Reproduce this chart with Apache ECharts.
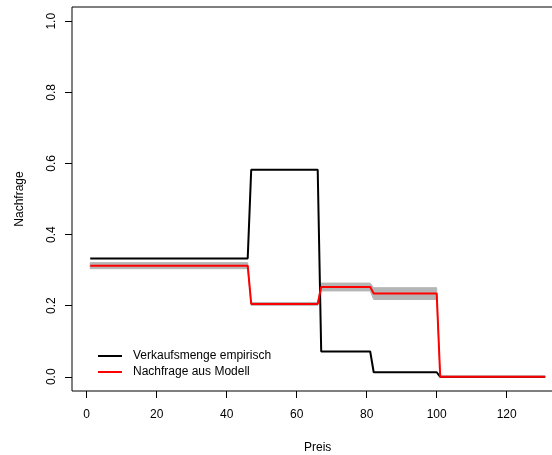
<!DOCTYPE html>
<html>
<head>
<meta charset="utf-8">
<script src="https://cdn.jsdelivr.net/npm/echarts@6/dist/echarts.min.js"></script>
<style>html,body{margin:0;padding:0;background:#fff;}#c{width:552px;height:455px;}</style>
</head>
<body>
<div id="c"></div>
<script>
// Data
var preis = [1, 46, 47, 66, 67, 81, 82, 100, 101, 131];
var empirisch = [0.333, 0.333, 0.582, 0.582, 0.071, 0.071, 0.0127, 0.0127, 0, 0];
var modell = [0.3125, 0.3125, 0.205, 0.205, 0.2525, 0.2525, 0.234, 0.234, 0, 0];
var bandLower = [0.304, 0.304, 0.201, 0.201, 0.2415, 0.2415, 0.2175, 0.2175, 0, 0];
var bandUpper = [0.321, 0.321, 0.209, 0.209, 0.2635, 0.2635, 0.2505, 0.2505, 0, 0];
var xTicks = [0, 20, 40, 60, 80, 100, 120];
var yTicks = [0, 0.2, 0.4, 0.6, 0.8, 1.0];
var nameEmp = 'Verkaufsmenge empirisch';
var nameMod = 'Nachfrage aus Modell';

function zip(xs, ys) { return xs.map(function (x, i) { return [x, ys[i]]; }); }
var bandData = preis.map(function (x, i) { return [x, bandLower[i], bandUpper[i]]; });

var font = "'Liberation Sans', Arial, Helvetica, sans-serif";
var chart = echarts.init(document.getElementById('c'), null, {renderer: 'canvas'});
chart.setOption({
  animation: false,
  textStyle: {fontFamily: font, color: '#000'},
  grid: {left: 72, top: 7, width: 491.4, height: 384, containLabel: false, outerBoundsMode: 'none',
         show: true, borderColor: '#000', borderWidth: 1, backgroundColor: 'transparent'},
  legend: {
    data: [{name: nameEmp, icon: 'rect'}, {name: nameMod, icon: 'rect'}],
    orient: 'vertical', left: 98, top: 350, padding: 0,
    itemWidth: 24, itemHeight: 2, itemGap: 4,
    textStyle: {fontFamily: font, fontSize: 12, color: '#000', padding: [0, 0, 0, 6]}
  },
  xAxis: {
    type: 'value', min: -4.2, max: 136.2,
    name: 'Preis', nameLocation: 'middle', nameGap: 51,
    nameTextStyle: {fontFamily: font, fontSize: 12, color: '#000'},
    axisLine: {show: false, onZero: false},
    axisTick: {show: true, length: 7, customValues: xTicks, lineStyle: {color: '#000'}},
    axisLabel: {customValues: xTicks, margin: 18, fontFamily: font, fontSize: 12, color: '#000'},
    splitLine: {show: false}
  },
  yAxis: {
    type: 'value', min: -0.04, max: 1.04,
    name: 'Nachfrage', nameLocation: 'middle', nameGap: 46, nameRotate: 90,
    nameTextStyle: {fontFamily: font, fontSize: 12, color: '#000'},
    axisLine: {show: false, onZero: false},
    axisTick: {show: true, length: 7, customValues: yTicks, lineStyle: {color: '#000'}},
    axisLabel: {customValues: yTicks, rotate: 90, margin: 14, fontFamily: font, fontSize: 12, color: '#000',
      formatter: function (v) { return v.toFixed(1); }},
    splitLine: {show: false}
  },
  series: [
    {type: 'custom', name: 'band', data: bandData, silent: true, z: 1,
     renderItem: function (params, api) {
       if (params.dataIndex !== 0) return null;
       var pts = [];
       for (var i = 0; i < preis.length; i++) pts.push(api.coord([preis[i], bandUpper[i]]));
       for (var j = preis.length - 1; j >= 0; j--) pts.push(api.coord([preis[j], bandLower[j]]));
       return {type: 'polygon', shape: {points: pts}, style: {fill: '#b5b5b5', stroke: '#b5b5b5', lineWidth: 1}};
     }},
    {type: 'line', name: nameEmp, data: zip(preis, empirisch), symbol: 'none', z: 2,
     lineStyle: {color: '#000', width: 2}, itemStyle: {color: '#000'}},
    {type: 'line', name: nameMod, data: zip(preis, modell), symbol: 'none', z: 3,
     lineStyle: {color: '#ff0000', width: 2}, itemStyle: {color: '#ff0000'}}
  ]
});
</script>
</body>
</html>
